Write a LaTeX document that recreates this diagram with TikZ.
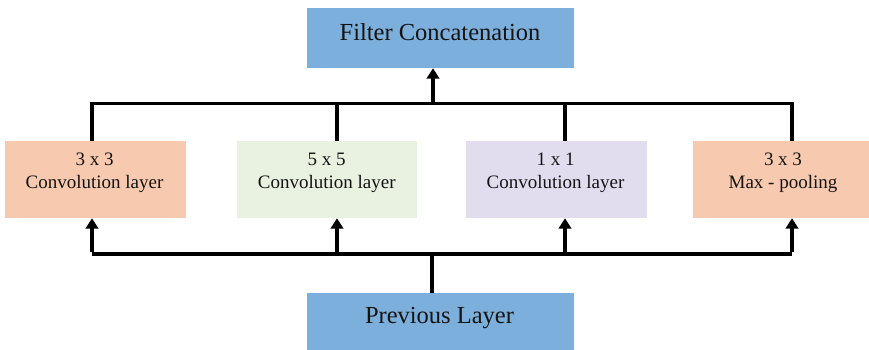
\documentclass[tikz,border=0pt]{standalone}
\usepackage{fontspec}
\setmainfont{Liberation Serif}
\usetikzlibrary{arrows.meta}

\definecolor{layerblue}{HTML}{7DAFDC}
\definecolor{salmon}{HTML}{F7C9AE}
\definecolor{palegreen}{HTML}{E9F2E0}
\definecolor{lavender}{HTML}{E2DDEE}
\definecolor{ink}{HTML}{141414}

\tikzset{
  box/.style={rectangle, draw=none, inner sep=0pt, anchor=center},
  bigtxt/.style={text=ink, inner sep=0pt, font=\fontsize{24.5}{29}\selectfont},
  smalltxt/.style={text=ink, inner sep=0pt, align=center, font=\fontsize{19}{23}\selectfont},
  wire/.style={line width=3.3pt, draw=black, line cap=butt, line join=miter},
  arr/.style={wire, -{Triangle[width=12.5pt,length=10.5pt]}},
}

\begin{document}
\begin{tikzpicture}[x=1pt,y=-1pt]
\useasboundingbox (0,0) rectangle (869,349);

% blocks
\node[box, fill=layerblue, minimum width=267pt, minimum height=60pt] (top) at (440.5,38) {};
\node[box, fill=salmon,    minimum width=181pt, minimum height=77pt] (b1) at (95.5,179.5) {};
\node[box, fill=palegreen, minimum width=180pt, minimum height=77pt] (b2) at (327,179.5) {};
\node[box, fill=lavender,  minimum width=181pt, minimum height=77pt] (b3) at (556.5,179.5) {};
\node[box, fill=salmon,    minimum width=181pt, minimum height=77pt] (b4) at (783.5,179.5) {};
\node[box, fill=layerblue, minimum width=267pt, minimum height=58pt] (prev) at (440.5,322) {};

% labels
\node[bigtxt, anchor=base] (ttop) at (440,40) {Filter Concatenation};
\node[bigtxt, anchor=base] (tprev) at (439.5,323.3) {Previous Layer};
\node[smalltxt] (t1) at (94.5,173.2) {3 x 3\\Convolution layer};
\node[smalltxt] (t2) at (326.7,173.2) {5 x 5\\Convolution layer};
\node[smalltxt] (t3) at (555.5,173.2) {1 x 1\\Convolution layer};
\node[smalltxt] (t4) at (783,173.2) {3 x 3\\Max - pooling};

% junctions on the upper bus
\coordinate (u1) at (92,103.5);
\coordinate (u2) at (337,103.5);
\coordinate (u3) at (565,103.5);
\coordinate (u4) at (792,103.5);
\coordinate (ut) at (433,103.5);

% junctions on the lower bus
\coordinate (d1) at (92,254);
\coordinate (d2) at (337,254);
\coordinate (d3) at (565,254);
\coordinate (d4) at (792,254);
\coordinate (dp) at (432,254);

% upper bus: branches merge into the concatenation block
\draw[wire] (b1.north -| u1) -- (u1) -- (u4) -- (b4.north -| u4);
\draw[wire] (b2.north -| u2) -- (u2);
\draw[wire] (b3.north -| u3) -- (u3);
\draw[arr] (ut) -- (ut |- top.south);

% lower bus: previous layer feeds every branch
\draw[wire] (prev.north -| dp) -- (dp);
\draw[wire] (d1) -- (d4);
\draw[arr] ([yshift=1.65pt]d1) -- (d1 |- b1.south);
\draw[arr] (d2) -- (d2 |- b2.south);
\draw[arr] (d3) -- (d3 |- b3.south);
\draw[arr] ([yshift=1.65pt]d4) -- (d4 |- b4.south);
\end{tikzpicture}
\end{document}
